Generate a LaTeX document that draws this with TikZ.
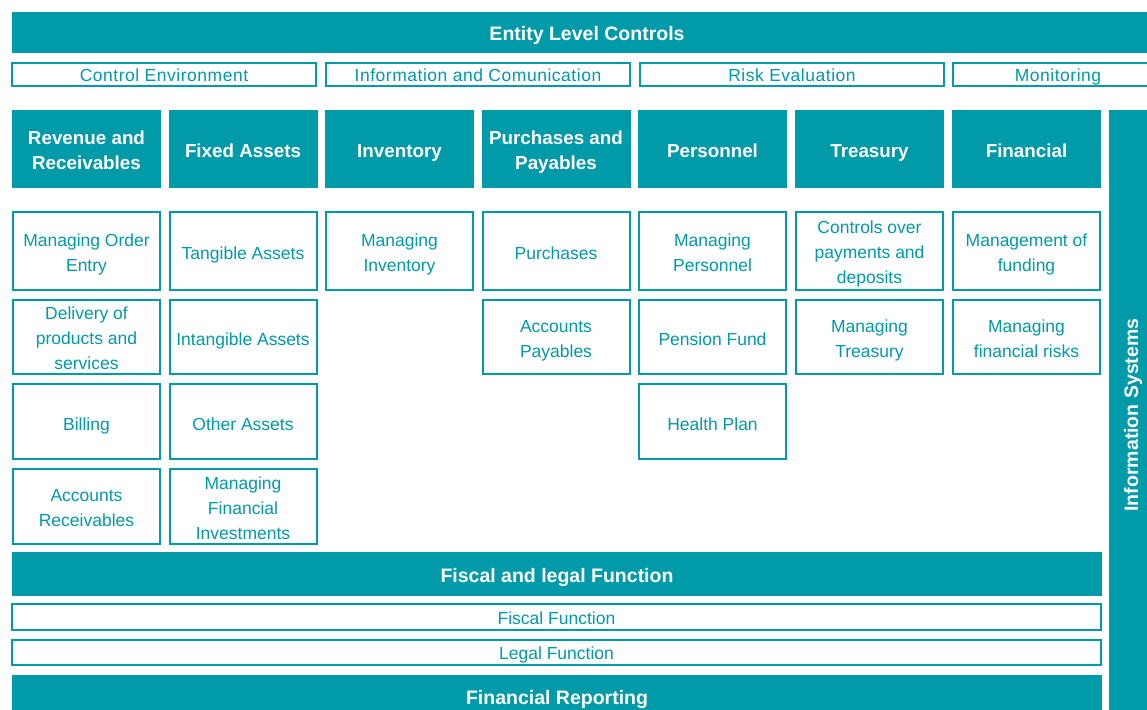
\documentclass[tikz,border=0pt]{standalone}
\usepackage{fontspec}
\setmainfont{Liberation Sans}
\newfontfamily\spacedfont[LetterSpace=3]{Liberation Sans}
\definecolor{teal}{RGB}{0,154,168}
\tikzset{
  solid box/.style={fill=teal, inner sep=0pt},
  line box/.style={draw=teal, line width=2pt, fill=white, inner sep=0pt},
  txt/.style={align=center, inner sep=0pt, yshift=-3.5pt,
    execute at begin node=\strut, execute at end node=\strut},
  lt/.style={txt, text=teal, font=\fontsize{17.5}{25}\selectfont},
  ltm/.style={lt, yshift=-1.8pt},
  thin/.style={lt, yshift=1.3pt},
  comp/.style={thin, font=\spacedfont\fontsize{17.5}{25}\selectfont},
  bt/.style={txt, text=white, font=\bfseries\fontsize{18.8}{25}\selectfont},
  btm/.style={bt, yshift=-1.8pt},
  bbt/.style={txt, text=white, font=\bfseries\fontsize{19.5}{25}\selectfont},
  col/.style={minimum width=147pt},
  head/.style={solid box, minimum width=149pt, minimum height=78pt},
}
\begin{document}
\begin{tikzpicture}[x=1pt,y=-1pt]
\clip (0,0) rectangle (1147,709);
\fill[white] (0,0) rectangle (1147,709);
% top bar
\node[solid box, minimum width=1150pt, minimum height=41pt, label={[bbt]center:{Entity Level Controls}}] (elc) at (587,32.5) {};
% components
\node[line box, minimum width=304pt, minimum height=23pt, label={[comp]center:{Control Environment}}] (ce) at (164,74.5) {};
\node[line box, minimum width=304pt, minimum height=23pt, label={[comp]center:{Information and Comunication}}] (ic) at (478,74.5) {};
\node[line box, minimum width=304pt, minimum height=23pt, label={[comp]center:{Risk Evaluation}}] (re) at (792,74.5) {};
\node[line box, minimum width=210pt, minimum height=23pt, label={[comp]center:{Monitoring}}] (mo) at (1058,74.5) {};
% headers
\node[head, label={[btm]center:{Revenue and\\Receivables}}] (h1) at (86.5,149) {};
\node[head, label={[bt]center:{Fixed Assets}}] (h2) at (243,149) {};
\node[head, label={[bt]center:{Inventory}}] (h3) at (399.5,149) {};
\node[head, label={[btm]center:{Purchases and\\Payables}}] (h4) at (556,149) {};
\node[head, label={[bt]center:{Personnel}}] (h5) at (712.5,149) {};
\node[head, label={[bt]center:{Treasury}}] (h6) at (869.5,149) {};
\node[head, label={[bt]center:{Financial}}] (h7) at (1026.5,149) {};
% info systems
\node[solid box, minimum width=610pt, minimum height=48pt, rotate=90, text=white,
  font=\bfseries\fontsize{19.5}{25}\selectfont] (is) at (1133,415) {Information Systems};
% row 1
\node[line box, col, minimum height=78pt, label={[ltm]center:{Managing Order\\Entry}}] (a1) at (86.5,251) {};
\node[line box, col, minimum height=78pt, label={[lt]center:{Tangible Assets}}] (b1) at (243,251) {};
\node[line box, col, minimum height=78pt, label={[ltm]center:{Managing\\Inventory}}] (c1) at (399.5,251) {};
\node[line box, col, minimum height=78pt, label={[lt]center:{Purchases}}] (d1) at (556,251) {};
\node[line box, col, minimum height=78pt, label={[ltm]center:{Managing\\Personnel}}] (e1) at (712.5,251) {};
\node[line box, col, minimum height=78pt, label={[ltm]center:{Controls over\\payments and\\deposits}}] (f1) at (869.5,251) {};
\node[line box, col, minimum height=78pt, label={[ltm]center:{Management of\\funding}}] (g1) at (1026.5,251) {};
% row 2
\node[line box, col, minimum height=74pt, label={[ltm]center:{Delivery of\\products and\\services}}] (a2) at (86.5,337) {};
\node[line box, col, minimum height=74pt, label={[lt]center:{Intangible Assets}}] (b2) at (243,337) {};
\node[line box, col, minimum height=74pt, label={[ltm]center:{Accounts\\Payables}}] (d2) at (556,337) {};
\node[line box, col, minimum height=74pt, label={[lt]center:{Pension Fund}}] (e2) at (712.5,337) {};
\node[line box, col, minimum height=74pt, label={[ltm]center:{Managing\\Treasury}}] (f2) at (869.5,337) {};
\node[line box, col, minimum height=74pt, label={[ltm]center:{Managing\\financial risks}}] (g2) at (1026.5,337) {};
% row 3
\node[line box, col, minimum height=75pt, label={[lt]center:{Billing}}] (a3) at (86.5,421.5) {};
\node[line box, col, minimum height=75pt, label={[lt]center:{Other Assets}}] (b3) at (243,421.5) {};
\node[line box, col, minimum height=75pt, label={[lt]center:{Health Plan}}] (e3) at (712.5,421.5) {};
% row 4
\node[line box, col, minimum height=75pt, label={[ltm]center:{Accounts\\Receivables}}] (a4) at (86.5,506.5) {};
\node[line box, col, minimum height=75pt, label={[ltm]center:{Managing\\Financial\\Investments}}] (b4) at (243,506.5) {};
% bottom
\node[solid box, minimum width=1090pt, minimum height=44pt, label={[bbt]center:{Fiscal and legal Function}}] (flf) at (557,574) {};
\node[line box, minimum width=1089pt, minimum height=26pt, label={[thin]center:{Fiscal Function}}] (ff) at (556.5,617) {};
\node[line box, minimum width=1089pt, minimum height=25pt, label={[thin]center:{Legal Function}}] (lf) at (556.5,652.5) {};
\node[solid box, minimum width=1090pt, minimum height=45pt, label={[bbt, yshift=2pt]center:{Financial Reporting}}] (fr) at (557,697.5) {};
\end{tikzpicture}
\end{document}
